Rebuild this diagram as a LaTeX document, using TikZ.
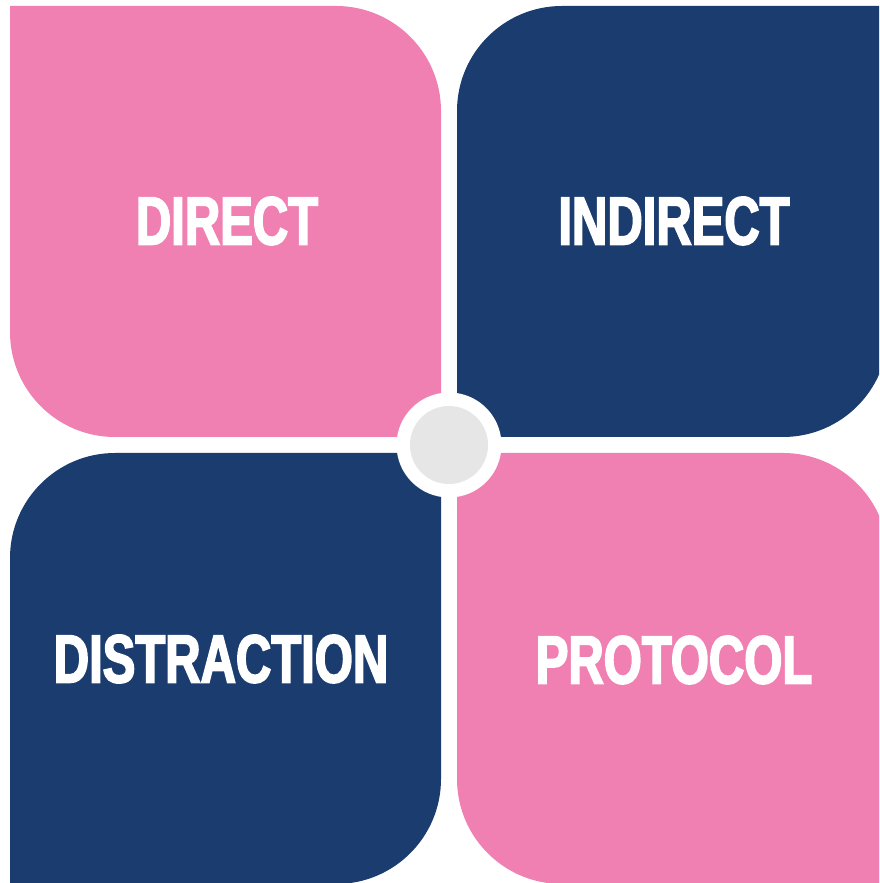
\documentclass[tikz,border=0pt]{standalone}
\usepackage{fontspec}
\newfontfamily\quadfont[FakeStretch=0.72,FakeBold=2.5]{Liberation Sans}
\usepackage{tikz}
\usetikzlibrary{positioning}

\definecolor{quadpink}{HTML}{F080B1}
\definecolor{quadnavy}{HTML}{1B3C6E}
\definecolor{hubgrey}{HTML}{E6E6E6}

\begin{document}
\begin{tikzpicture}[
  x=1pt,y=1pt,
  pinkq/.style={fill=quadpink},
  navyq/.style={fill=quadnavy},
  quadlabel/.style={text=white,font=\quadfont\bfseries\fontsize{68}{68}\selectfont,inner sep=0pt}
]
\useasboundingbox (0,0) rectangle (879,883);
\fill[white] (0,0) rectangle (879,883);
\clip (0,0) rectangle (879,883);
% four quadrants, r = 105
\fill[pinkq] (10,877) -- (336,877) arc[start angle=90,end angle=0,radius=105] -- (441,446) -- (115,446) arc[start angle=270,end angle=180,radius=105] -- cycle;
\fill[navyq] (457,446) -- (457,772) arc[start angle=180,end angle=90,radius=105] -- (888,877) -- (888,551) arc[start angle=0,end angle=-90,radius=105] -- cycle;
\fill[navyq] (10,-1) -- (10,325) arc[start angle=180,end angle=90,radius=105] -- (441,430) -- (441,104) arc[start angle=0,end angle=-90,radius=105] -- cycle;
\fill[pinkq] (457,430) -- (783,430) arc[start angle=90,end angle=0,radius=105] -- (888,-1) -- (562,-1) arc[start angle=270,end angle=180,radius=105] -- cycle;
% hub
\node[circle,fill=white,minimum size=105pt,inner sep=0pt] (hub) at (449,438) {};
\node[circle,fill=hubgrey,minimum size=78pt,inner sep=0pt] (core) at (hub) {};
% labels
\node[quadlabel] (direct) at (227,662) {DIRECT};
\node[quadlabel] (indirect) at (674,662) {INDIRECT};
\node[quadlabel] (distraction) at (221,224) {DISTRACTION};
\node[quadlabel] (protocol) at (674,223) {PROTOCOL};
\end{tikzpicture}
\end{document}
